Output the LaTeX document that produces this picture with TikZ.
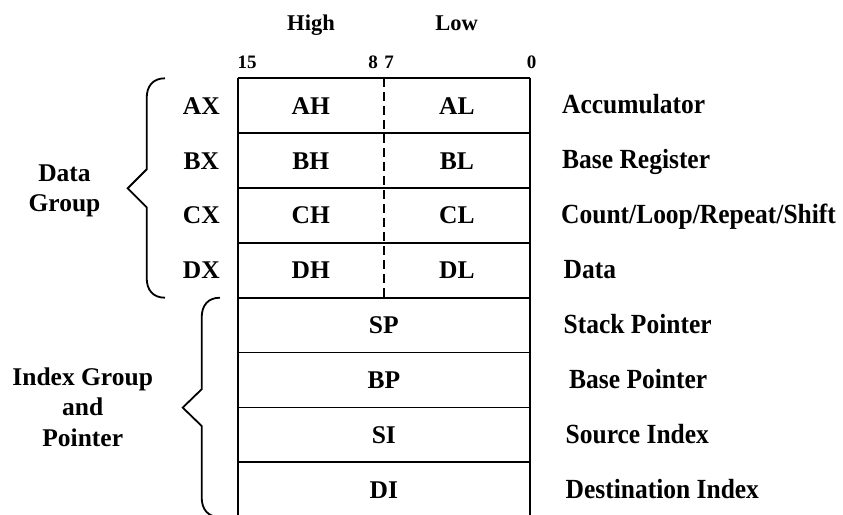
\documentclass[tikz,border=0pt]{standalone}
\usepackage{fontspec}
\setmainfont{Liberation Serif}
\newfontfamily\descfont[FakeStretch=0.92]{Liberation Serif}
\begin{document}
\begin{tikzpicture}[x=1pt,y=-1pt,
  lbl/.style={font=\fontsize{25.5}{30}\selectfont\bfseries, inner sep=0pt, anchor=base},
  lblw/.style={font=\descfont\fontsize{27.7}{32}\selectfont\bfseries, inner sep=0pt, anchor=base west},
  hilo/.style={font=\fontsize{22.5}{27}\selectfont\bfseries, inner sep=0pt, anchor=base},
  bitno/.style={font=\fontsize{19}{23}\selectfont\bfseries, inner sep=0pt, anchor=base},
  gridline/.style={line width=1.8pt},
  bracepath/.style={line width=1.8pt, line join=miter},
  dashline/.style={line width=1.8pt, dash pattern=on 9pt off 5pt}]
\useasboundingbox (0,0) rectangle (843,514);
\clip (0,0) rectangle (843,514);

% grid coordinates
\foreach \i/\y in {0/78.3,1/133.15,2/188,3/242.85,4/297.7,5/352.55,6/407.4,7/462.25,8/517.1}{
  \coordinate (L\i) at (237.7,\y);
  \coordinate (R\i) at (530,\y);
  \coordinate (M\i) at (383.85,\y);
}
% horizontal lines
\foreach \i in {0,...,7}{ \draw[gridline] (L\i) -- (R\i); }
% verticals
\draw[gridline] (L0) -- (L8);
\draw[gridline] (R0) -- (R8);
\draw[dashline] (M0) -- (M4);

% header
\node[hilo] (high) at (311,30.5) {High};
\node[hilo] (low) at (456.5,30.5) {Low};
\node[bitno] (b15) at (247.2,68.3) {15};
\node[bitno] (b8) at (373,68.3) {8};
\node[bitno] (b7) at (389,68.3) {7};
\node[bitno] (b0) at (531.5,68.3) {0};

% data registers
\node[lbl] (AX) at (201.3,114.1) {AX};
\node[lbl] (BX) at (201.3,169.0) {BX};
\node[lbl] (CX) at (201.3,223.8) {CX};
\node[lbl] (DX) at (201.3,278.7) {DX};
\node[lbl] (AH) at (310.75,114.1) {AH};
\node[lbl] (BH) at (310.75,169.0) {BH};
\node[lbl] (CH) at (310.75,223.8) {CH};
\node[lbl] (DH) at (310.75,278.7) {DH};
\node[lbl] (AL) at (456.9,114.1) {AL};
\node[lbl] (BL) at (456.9,169.0) {BL};
\node[lbl] (CL) at (456.9,223.8) {CL};
\node[lbl] (DL) at (456.9,278.7) {DL};

% index/pointer registers
\node[lbl] (SP) at (383.85,333.5) {SP};
\node[lbl] (BP) at (383.85,388.4) {BP};
\node[lbl] (SI) at (383.85,443.2) {SI};
\node[lbl] (DI) at (383.85,498.1) {DI};

% descriptions
\node[lblw] (dA) at (562,113.6) {Accumulator};
\node[lblw] (dB) at (562,168.5) {Base Register};
\node[lblw] (dC) at (561,223.6) {Count/Loop/Repeat/Shift};
\node[lblw] (dD) at (563.5,278.4) {Data};
\node[lblw] (dSP) at (563.5,333.4) {Stack Pointer};
\node[lblw] (dBP) at (569,388.3) {Base Pointer};
\node[lblw] (dSI) at (565.5,443.3) {Source Index};
\node[lblw] (dDI) at (565.5,498.3) {Destination Index};

% group labels
\node[lbl] (dg1) at (64.5,181.7) {Data};
\node[lbl] (dg2) at (64.5,211.2) {Group};
\node[lbl] (ig1) at (82.7,385) {Index Group};
\node[lbl] (ig2) at (82.7,415.5) {and};
\node[lbl] (ig3) at (82.7,446.2) {Pointer};

% braces
\draw[bracepath] (165,78.3) .. controls (153,78.3) and (146.7,86) .. (146.7,98)
  -- (146.7,169.3) -- (127.7,188.3) -- (146.7,207.3) -- (146.7,278)
  .. controls (146.7,290) and (153,297.7) .. (165,297.7);
\draw[bracepath] (220,297.7) .. controls (208,297.7) and (201.7,305.4) .. (201.7,317.4)
  -- (201.7,389.2) -- (182.7,407.6) -- (201.7,426) -- (201.7,497.4)
  .. controls (201.7,509.4) and (208,517.1) .. (220,517.1);
\end{tikzpicture}
\end{document}
